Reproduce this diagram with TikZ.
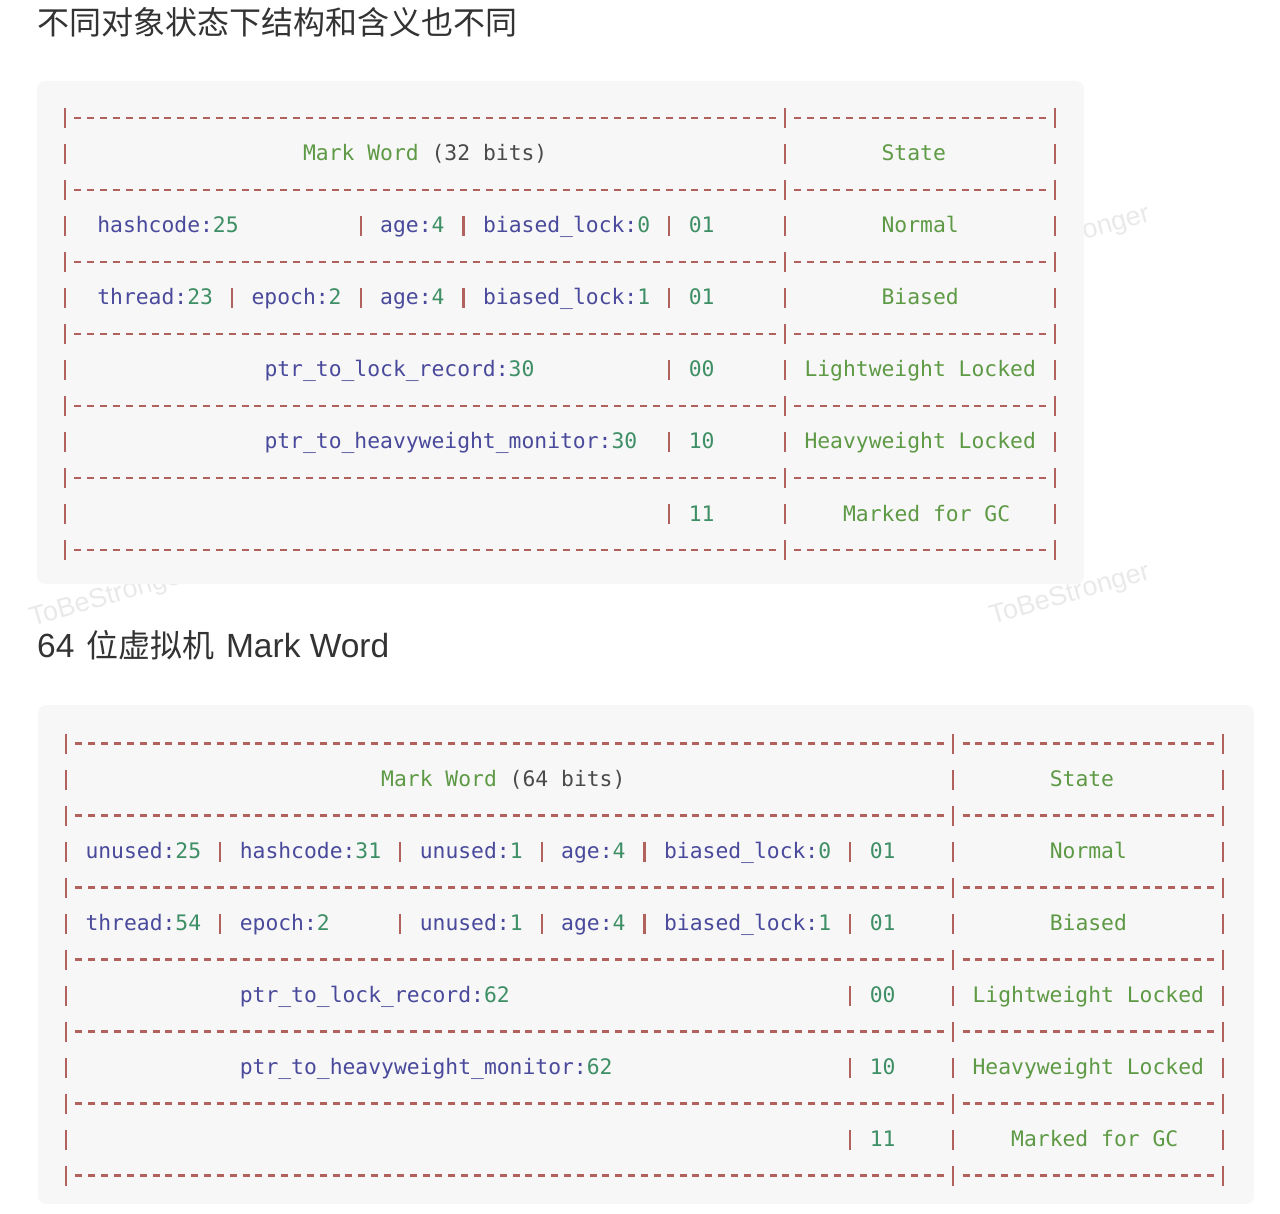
\documentclass[tikz,border=0pt]{standalone}
\usepackage{fontspec}
\setmonofont{DejaVu Sans Mono}
\newfontfamily\cjkfont{Noto Sans CJK SC}
\newfontfamily\markfont{Liberation Sans}
\usetikzlibrary{positioning}
\definecolor{rulered}{HTML}{B2625C}
\definecolor{fname}{HTML}{4A4A9C}
\definecolor{fnum}{HTML}{3F8F66}
\definecolor{label}{HTML}{5E9A45}
\definecolor{paren}{HTML}{4A4A4A}
\definecolor{panelgray}{HTML}{F7F7F7}
\definecolor{headgray}{HTML}{333333}
\definecolor{markgray}{HTML}{E9E9E9}
\newcommand\fn[2]{\textcolor{fname}{#1}\textcolor{fnum}{#2}}
\tikzset{
    field/.style={
           anchor=base west,
           inner sep=0pt,
           font=\ttfamily\fontsize{21.35pt}{24pt}\selectfont,
           },
    heading/.style={
           anchor=west,
           inner sep=0pt,
           text=headgray,
           font=\cjkfont\fontsize{32pt}{38pt}\selectfont,
           },
    watermark/.style={
           inner sep=0pt,
           rotate=16,
           text=markgray,
           font=\markfont\fontsize{27pt}{30pt}\selectfont,
           },
    panel/.style={fill=panelgray, rounded corners=8pt},
    bar/.style={draw=rulered, line width=2.4pt},
    dashrule/.style={draw=rulered, line width=2.6pt, dash pattern=on 7pt off 5.857pt},
}
\begin{document}
\begin{tikzpicture}[x=1pt,y=-1pt]
\useasboundingbox (0,0) rectangle (1280,1214);
% watermarks behind the panels
\foreach \wx/\wy in {1070/237,110/597,1070/595}
  \node[watermark] (wm-\wx-\wy) at (\wx,\wy) {ToBeStronger};
\fill[panel] (37,81) rectangle (1084,584);
\fill[panel] (38,705) rectangle (1254,1204);
\node[heading] (titleA) at (37,22) {不同对象状态下结构和含义也不同};
\node[heading] (titleB) at (37,645) {{\markfont\fontsize{33.5pt}{38pt}\selectfont 64\hspace{3pt} }位虚拟机{\markfont\fontsize{33.5pt}{38pt}\selectfont\hspace{2pt} Mark Word}};

% 32 bits table
\foreach \y in {118,190,...,550} {
  \draw[dashrule] ({65+12.857-3.5},\y) -- ({65+55*12.857+3.5},\y);
  \draw[dashrule] ({65+57*12.857-3.5},\y) -- ({65+76*12.857+3.5},\y);
}
\foreach \y in {118,154,...,550}
  \foreach \c in {0,56,77}
    \draw[bar] ({65+\c*12.857},\y-10) -- ++(0,20);
\foreach \c/\y in {23/226,31/226,47/226,13/298,23/298,31/298,47/298,47/370,47/442,47/514}
  \draw[bar] ({65+\c*12.857},\y-10) -- ++(0,20);
\node[field] (hdA) at (302.9,161) {\textcolor{label}{Mark Word} \textcolor{paren}{(32 bits)}};
\node[field] (stA) at (881.4,161) {\textcolor{label}{State}};
\node[field] (hashA) at (97.1,233) {\fn{hashcode:}{25}};
\node[field] (ageA1) at (380.0,233) {\fn{age:}{4}};
\node[field] (lockA1) at (482.9,233) {\fn{biased\_lock:}{0}};
\node[field] (bitsA1) at (688.6,233) {\textcolor{fnum}{01}};
\node[field] (normA) at (881.4,233) {\textcolor{label}{Normal}};
\node[field] (threadA) at (97.1,305) {\fn{thread:}{23}};
\node[field] (epochA) at (251.4,305) {\fn{epoch:}{2}};
\node[field] (ageA2) at (380.0,305) {\fn{age:}{4}};
\node[field] (lockA2) at (482.9,305) {\fn{biased\_lock:}{1}};
\node[field] (bitsA2) at (688.6,305) {\textcolor{fnum}{01}};
\node[field] (biasA) at (881.4,305) {\textcolor{label}{Biased}};
\node[field] (recA) at (264.3,377) {\fn{ptr\_to\_lock\_record:}{30}};
\node[field] (bitsA3) at (688.6,377) {\textcolor{fnum}{00}};
\node[field] (lightA) at (804.3,377) {\textcolor{label}{Lightweight Locked}};
\node[field] (monA) at (264.3,449) {\fn{ptr\_to\_heavyweight\_monitor:}{30}};
\node[field] (bitsA4) at (688.6,449) {\textcolor{fnum}{10}};
\node[field] (heavyA) at (804.3,449) {\textcolor{label}{Heavyweight Locked}};
\node[field] (bitsA5) at (688.6,521) {\textcolor{fnum}{11}};
\node[field] (gcA) at (842.9,521) {\textcolor{label}{Marked for GC}};

% 64 bits table
\foreach \y in {743.5,815.5,...,1175.5} {
  \draw[dashrule] ({66+12.857-3.5},\y) -- ({66+68*12.857+3.5},\y);
  \draw[dashrule] ({66+70*12.857-3.5},\y) -- ({66+89*12.857+3.5},\y);
}
\foreach \y in {743.5,779.5,...,1175.5}
  \foreach \c in {0,69,90}
    \draw[bar] ({66+\c*12.857},\y-10) -- ++(0,20);
\foreach \y in {851.5,923.5}
  \foreach \c in {12,26,37,45,61}
    \draw[bar] ({66+\c*12.857},\y-10) -- ++(0,20);
\foreach \y in {995.5,1067.5,1139.5}
  \draw[bar] ({66+61*12.857},\y-10) -- ++(0,20);
\node[field] (hdB) at (381.0,786.5) {\textcolor{label}{Mark Word} \textcolor{paren}{(64 bits)}};
\node[field] (stB) at (1049.6,786.5) {\textcolor{label}{State}};
\node[field] (unusedB1) at (85.3,858.5) {\fn{unused:}{25}};
\node[field] (hashB) at (239.6,858.5) {\fn{hashcode:}{31}};
\node[field] (unusedB2) at (419.6,858.5) {\fn{unused:}{1}};
\node[field] (ageB1) at (561.0,858.5) {\fn{age:}{4}};
\node[field] (lockB1) at (663.9,858.5) {\fn{biased\_lock:}{0}};
\node[field] (bitsB1) at (869.6,858.5) {\textcolor{fnum}{01}};
\node[field] (normB) at (1049.6,858.5) {\textcolor{label}{Normal}};
\node[field] (threadB) at (85.3,930.5) {\fn{thread:}{54}};
\node[field] (epochB) at (239.6,930.5) {\fn{epoch:}{2}};
\node[field] (unusedB3) at (419.6,930.5) {\fn{unused:}{1}};
\node[field] (ageB2) at (561.0,930.5) {\fn{age:}{4}};
\node[field] (lockB2) at (663.9,930.5) {\fn{biased\_lock:}{1}};
\node[field] (bitsB2) at (869.6,930.5) {\textcolor{fnum}{01}};
\node[field] (biasB) at (1049.6,930.5) {\textcolor{label}{Biased}};
\node[field] (recB) at (239.6,1002.5) {\fn{ptr\_to\_lock\_record:}{62}};
\node[field] (bitsB3) at (869.6,1002.5) {\textcolor{fnum}{00}};
\node[field] (lightB) at (972.4,1002.5) {\textcolor{label}{Lightweight Locked}};
\node[field] (monB) at (239.6,1074.5) {\fn{ptr\_to\_heavyweight\_monitor:}{62}};
\node[field] (bitsB4) at (869.6,1074.5) {\textcolor{fnum}{10}};
\node[field] (heavyB) at (972.4,1074.5) {\textcolor{label}{Heavyweight Locked}};
\node[field] (bitsB5) at (869.6,1146.5) {\textcolor{fnum}{11}};
\node[field] (gcB) at (1011.0,1146.5) {\textcolor{label}{Marked for GC}};
\end{tikzpicture}
\end{document}
